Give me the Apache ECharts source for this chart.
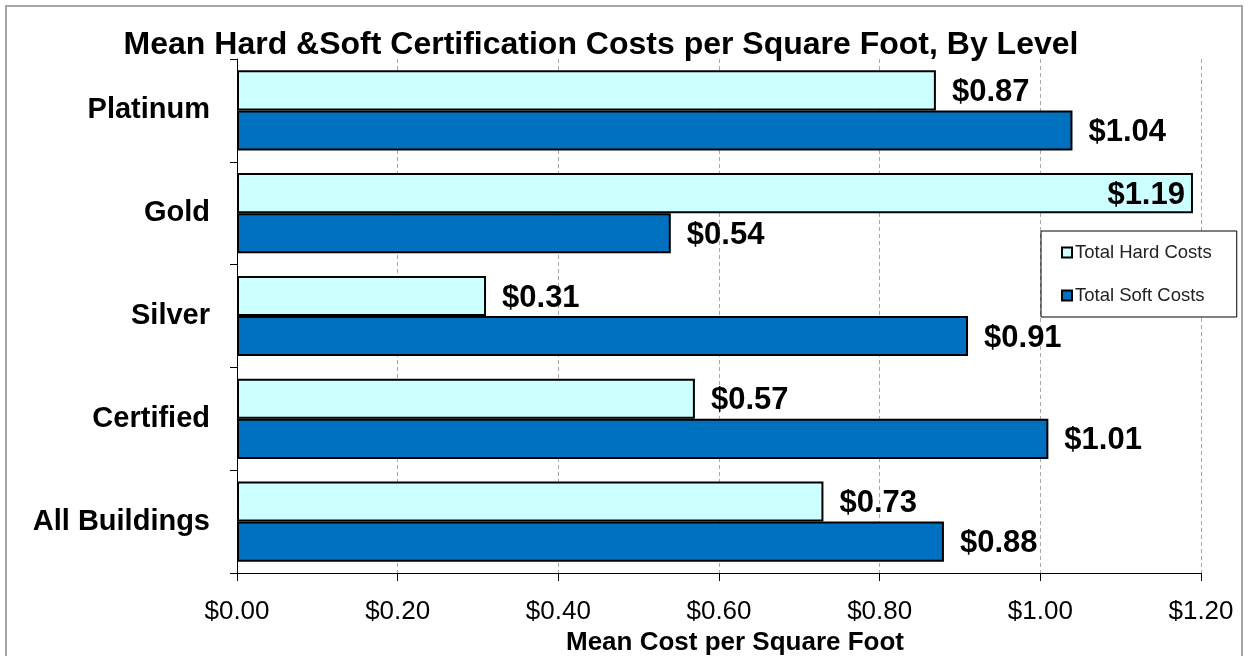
<!DOCTYPE html>
<html>
<head>
<meta charset="utf-8">
<script src="https://cdn.jsdelivr.net/npm/echarts@6/dist/echarts.min.js"></script>
<style>
  html, body { margin: 0; padding: 0; background: #fff; }
  #chart { width: 1248px; height: 656px; }
</style>
</head>
<body>
<div id="chart"></div>
<script>
// top to bottom, as in the picture
const levels = ['Platinum', 'Gold', 'Silver', 'Certified', 'All Buildings']
const hardCosts = [0.87, 1.19, 0.31, 0.57, 0.73]
const softCosts = [1.04, 0.54, 0.91, 1.01, 0.88]
const xTicks = { min: 0, max: 1.2, step: 0.2 }

const font = '"Liberation Sans", Arial, sans-serif'
const money = (v) => '$' + Number(v).toFixed(2)

const chart = echarts.init(document.getElementById('chart'))

const valueLabel = {
  show: true,
  position: 'right',
  distance: 16,
  offset: [0, 2],
  fontFamily: font,
  fontSize: 31,
  fontWeight: 'bold',
  color: '#000',
  formatter: (p) => money(p.value),
}

chart.setOption({
  animation: false,
  textStyle: { fontFamily: font },
  graphic: [
    {
      type: 'rect',
      shape: { x: 6, y: 6, width: 1236, height: 680 },
      style: { fill: 'none', stroke: '#a6a6a6', lineWidth: 2 },
      silent: true,
    },
  ],
  title: {
    text: 'Mean Hard &Soft Certification Costs per Square Foot, By Level',
    left: 596,
    textAlign: 'center',
    top: 24,
    textStyle: { fontFamily: font, fontSize: 32, fontWeight: 'bold', color: '#000' },
  },
  legend: {
    orient: 'vertical',
    left: 1041,
    top: 231,
    padding: [12, 25, 12, 20],
    itemGap: 24,
    itemWidth: 10,
    itemHeight: 10,
    icon: 'rect',
    borderColor: '#000',
    borderWidth: 1,
    backgroundColor: '#fff',
    itemStyle: { borderColor: '#000', borderWidth: 2 },
    textStyle: { fontFamily: font, fontSize: 18.5, color: '#222', padding: [0, 0, 0, -2] },
    data: ['Total Hard Costs', 'Total Soft Costs'],
  },
  grid: { left: 237, right: 47, top: 59, bottom: 83, outerBoundsMode: 'none' },
  xAxis: {
    type: 'value',
    min: xTicks.min,
    max: xTicks.max,
    interval: xTicks.step,
    name: 'Mean Cost per Square Foot',
    nameLocation: 'middle',
    nameGap: 56,
    nameTextStyle: { fontFamily: font, fontSize: 26, fontWeight: 'bold', color: '#000', padding: [0, 0, 0, 32] },
    axisLine: { show: true, lineStyle: { color: '#000', width: 1 } },
    axisTick: { show: true, length: 8, lineStyle: { color: '#000' } },
    axisLabel: { margin: 26, fontFamily: font, fontSize: 26, color: '#000', formatter: money },
    splitLine: { show: true, lineStyle: { color: '#a8a8a8', type: [4, 3], width: 1 } },
  },
  yAxis: {
    type: 'category',
    inverse: true,
    data: levels,
    axisLine: { show: true, lineStyle: { color: '#000', width: 1 } },
    axisTick: { show: true, length: 7, lineStyle: { color: '#000' } },
    axisLabel: { margin: 27, padding: [4, 0, 0, 0], fontFamily: font, fontSize: 29, fontWeight: 'bold', color: '#000' },
    splitLine: { show: false },
  },
  series: [
    {
      name: 'Total Hard Costs',
      type: 'bar',
      data: hardCosts.map((v, i) =>
        i === 1 ? { value: v, label: { position: 'insideRight', distance: 8 } } : v
      ),
      barGap: '0%',
      barCategoryGap: '22%',
      itemStyle: { color: '#ccffff', borderColor: '#000', borderWidth: 2 },
      label: valueLabel,
    },
    {
      name: 'Total Soft Costs',
      type: 'bar',
      data: softCosts,
      barGap: '0%',
      barCategoryGap: '22%',
      itemStyle: { color: '#0070c0', borderColor: '#000', borderWidth: 2 },
      label: valueLabel,
    },
  ],
})
</script>
</body>
</html>
